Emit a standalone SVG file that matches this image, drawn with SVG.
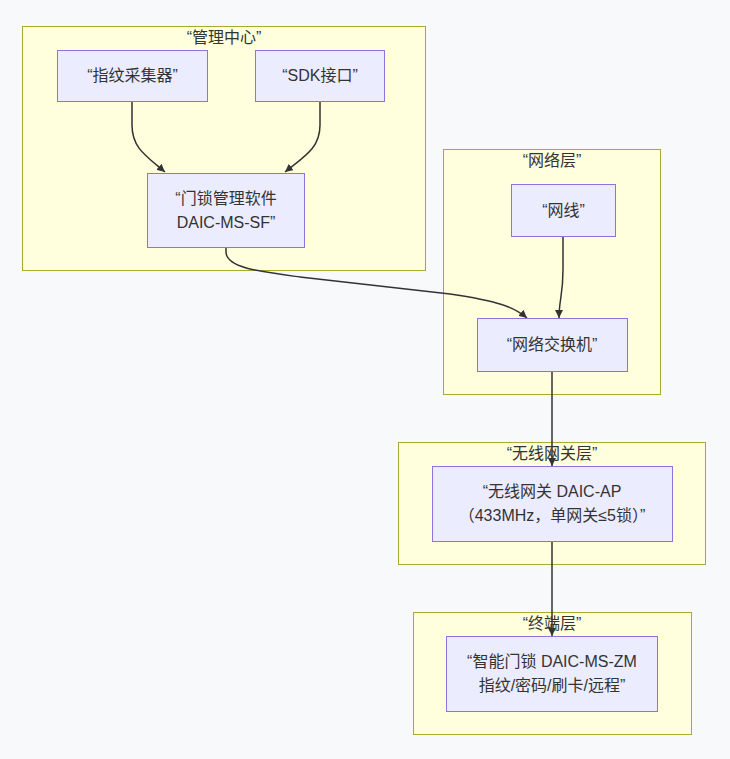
<svg xmlns="http://www.w3.org/2000/svg" width="730" height="759" viewBox="0 0 730 759">
<defs>
<style>
.cluster{fill:#ffffde;stroke:#aaaa33;stroke-width:1}
.node{fill:#ececff;stroke:#9370db;stroke-width:1}
.t{font-family:"Liberation Sans","Noto Sans CJK SC",sans-serif;font-size:16px;fill:#333;text-anchor:middle}
.edge{fill:none;stroke:#333;stroke-width:1.5}
</style>
<marker id="arr" viewBox="0 0 10 10" refX="10" refY="5" markerWidth="8" markerHeight="8" markerUnits="userSpaceOnUse" orient="auto">
<path d="M0,0 L10,5 L0,10 z" fill="#333"/>
</marker>
</defs>
<rect width="730" height="759" fill="#f8f9fb"/>
<g id="cluster-mgmt">
<rect class="cluster" x="22.5" y="26.5" width="403" height="244"/>
<text class="t" x="224" y="43">“管理中心”</text>
</g>
<g id="cluster-net">
<rect class="cluster" x="443.5" y="149.5" width="217" height="245"/>
<text class="t" x="552" y="166">“网络层”</text>
</g>
<g id="cluster-gw">
<rect class="cluster" x="398.5" y="442.5" width="307" height="122"/>
<text class="t" x="552" y="459">“无线网关层”</text>
</g>
<g id="cluster-term">
<rect class="cluster" x="413.5" y="612.5" width="278" height="122"/>
<text class="t" x="552" y="629">“终端层”</text>
</g>
<g id="connectors">
<path class="edge" d="M132,101 V125 C132,148 146,156 165,172" marker-end="url(#arr)"/>
<path class="edge" d="M320,101 V125 C320,148 305,156 285,172" marker-end="url(#arr)"/>
<path class="edge" d="M226,247 V252 C226,268 262,272 300,277 L450,294 C498,301 514,307 527,318" marker-end="url(#arr)"/>
<path class="edge" d="M563,236 V270 C563,295 559,300 559,318" marker-end="url(#arr)"/>
<path class="edge" d="M552,371 V466" marker-end="url(#arr)"/>
<path class="edge" d="M552,541 V636" marker-end="url(#arr)"/>
</g>
<g id="node-fp">
<rect class="node" x="57.5" y="50.5" width="150" height="51"/>
<text class="t" x="132.5" y="81">“指纹采集器”</text>
</g>
<g id="node-sdk">
<rect class="node" x="255.5" y="50.5" width="129" height="51"/>
<text class="t" x="320" y="81">“SDK接口”</text>
</g>
<g id="node-sw">
<rect class="node" x="147.5" y="173.5" width="157" height="74"/>
<text class="t" x="226" y="204">“门锁管理软件</text>
<text class="t" x="226" y="228">DAIC-MS-SF”</text>
</g>
<g id="node-cable">
<rect class="node" x="511.5" y="184.5" width="104" height="52"/>
<text class="t" x="563.5" y="216">“网线”</text>
</g>
<g id="node-switch">
<rect class="node" x="477.5" y="318.5" width="150" height="53"/>
<text class="t" x="552" y="350">“网络交换机”</text>
</g>
<g id="node-gw">
<rect class="node" x="432.5" y="466.5" width="240" height="75"/>
<text class="t" x="552" y="497">“无线网关 DAIC-AP</text>
<text class="t" x="552" y="521">（433MHz，单网关≤5锁）”</text>
</g>
<g id="node-lock">
<rect class="node" x="446.5" y="636.5" width="211" height="75"/>
<text class="t" x="552" y="667">“智能门锁 DAIC-MS-ZM</text>
<text class="t" x="552" y="691">指纹/密码/刷卡/远程”</text>
</g>
</svg>
